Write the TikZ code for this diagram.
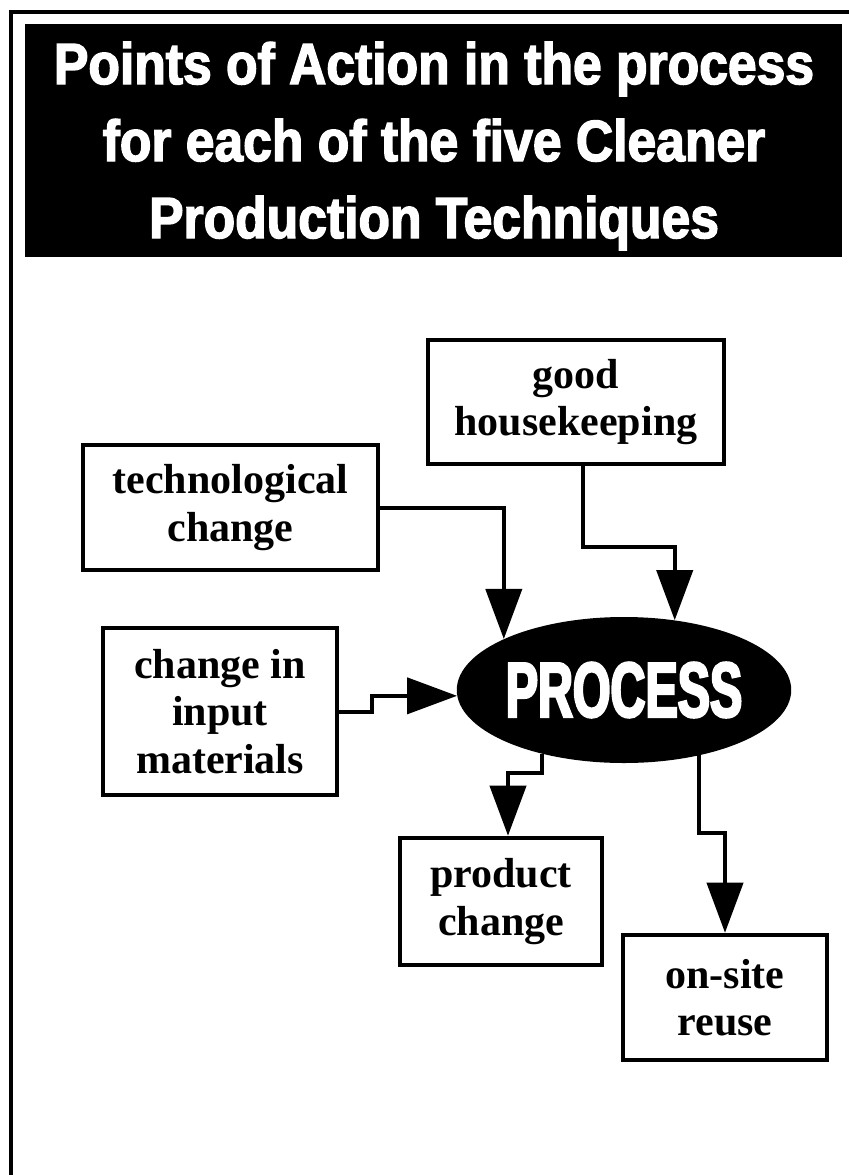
\documentclass[tikz,border=0pt]{standalone}
\usepackage{fontspec}
\setmainfont{Liberation Serif}
\newfontfamily\titlefont[FakeStretch=0.89,FakeBold=2.5]{Liberation Sans}
\newfontfamily\procfont[FakeStretch=0.62,FakeBold=3]{Liberation Sans}
\usetikzlibrary{shapes.geometric,arrows.meta,calc}
\tikzset{
  box/.style={draw, line width=3.4pt, fill=white, inner sep=0pt, align=center,
    font=\bfseries\fontsize{31.5pt}{35.5pt}\selectfont},
  conn/.style={line width=3pt, -{Triangle[length=37.5pt,width=27pt]}},
  frame/.style={line width=3pt},
  titlebox/.style={fill=black, inner sep=0pt},
  titletxt/.style={text=white, align=center, inner sep=0pt,
    font=\titlefont\bfseries\fontsize{43.5pt}{57.75pt}\selectfont},
  procnode/.style={ellipse, fill=black, inner sep=0pt, text=white,
    font=\procfont\bfseries\fontsize{58.5pt}{60pt}\selectfont}
}
\begin{document}
\begin{tikzpicture}[x=0.75pt,y=-0.75pt]
\useasboundingbox (0,0) rectangle (849,1175);
% outer frame (left and top)
\draw[frame] (849,12) -- (11,12) -- (11,1175);
% title
\node[titlebox, minimum width=612.75pt, minimum height=174.75pt] (title) at (433.5,140.5) {};
\node[titletxt] (titletext) at (434,146) {Points of Action in the process\\for each of the five Cleaner\\Production Techniques};
% boxes
\node[box, minimum width=222pt, minimum height=93pt] (hk) at (576,402) {good\\housekeeping};
\node[box, minimum width=221.25pt, minimum height=93.75pt] (tech) at (230.5,507.5) {technological\\change};
\node[box, minimum width=175.5pt, minimum height=125.25pt] (input) at (220,711.5) {change in\\input\\materials};
\node[box, minimum width=151.5pt, minimum height=95.25pt] (prod) at (501,901.5) {product\\change};
\node[box, minimum width=153pt, minimum height=93.75pt] (onsite) at (725,997.5) {on-site\\reuse};
\node[procnode, minimum width=232.5pt, minimum height=109.5pt] (proc) at (624,690) {PROCESS};
% connectors
\draw[conn] ($(hk.south)+(7,0)$) -- ++(0,81) -| (proc.54.6);
\draw[conn] (tech.east) -| (proc.157.5);
\draw[conn] (input.east) -- ++(33,0) |- (proc.182.6);
\draw[conn] (proc.218.6) -- ++(0,19) -| ($(prod.north)+(7,0)$);
\draw[conn] (proc.319.1) -- ++(0,78) -| (onsite.north);
\end{tikzpicture}
\end{document}
